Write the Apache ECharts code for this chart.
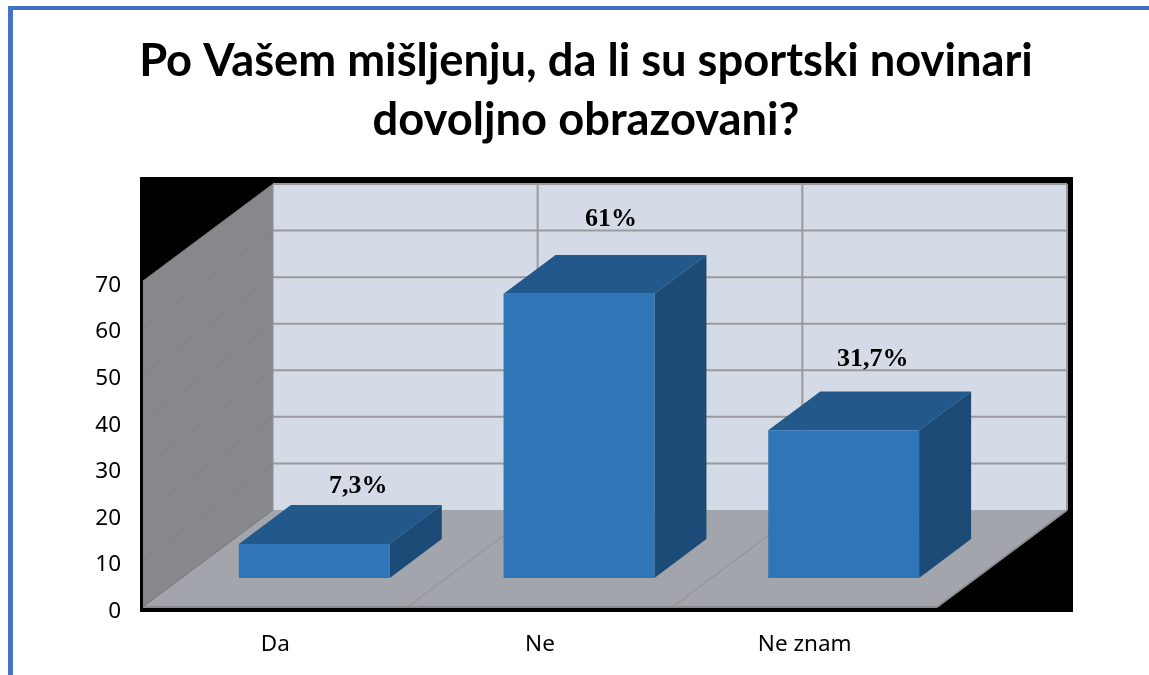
<!DOCTYPE html>
<html>
<head>
<meta charset="utf-8">
<style>
  html, body { margin: 0; padding: 0; background: #fff; }
  #chart { width: 1149px; height: 675px; }
</style>
<script src="https://cdn.jsdelivr.net/npm/echarts@6/dist/echarts.min.js"></script>
</head>
<body>
<div id="chart"></div>
<script>
const categories = [ 'Da', 'Ne', 'Ne znam' ];
const values = [ 7.3, 61, 31.7 ];
const yTicks = [ 0, 10, 20, 30, 40, 50, 60, 70 ];
const titleText = 'Po Vašem mišljenju, da li su sportski novinari\ndovoljno obrazovani?';

// Décalage de la perspective (fond du graphique par rapport au plan avant)
const DEPTH_X = 130;
const DEPTH_Y = -97;
// Les barres occupent de 30% à 70% de la profondeur
const BAR_START = 0.3;
const BAR_END = 0.7;
const BAR_WIDTH = 0.57;
// Les étiquettes sont placées à la main dans l'original
const labelNudge = [ [ -8, -19 ], [ -20, -36 ], [ -23, -32 ] ];

const chart = echarts.init( document.getElementById( 'chart' ) );

function poly ( points, fill ) {
  return { type: 'polygon', shape: { points }, style: { fill } };
}

function seg ( a, b, stroke, lineWidth ) {
  return { type: 'line', shape: { x1: a[ 0 ], y1: a[ 1 ], x2: b[ 0 ], y2: b[ 1 ] }, style: { stroke, lineWidth } };
}

// Murs, sol et grille
function renderScene ( params, api ) {
  const box = params.coordSys;
  const left = box.x;
  const right = box.x + box.width;
  const cell = box.width / categories.length;
  const y0 = api.coord( [ 0, 0 ] )[ 1 ];
  const yTop = api.coord( [ 0, yTicks[ yTicks.length - 1 ] ] )[ 1 ];
  const back = ( x, y ) => [ x + DEPTH_X, y + DEPTH_Y ];
  const children = [
    poly( [ [ left, yTop ], back( left, yTop ), back( left, y0 ), [ left, y0 ] ], '#87888c' ),
    poly( [ back( left, yTop ), back( right, yTop ), back( right, y0 ), back( left, y0 ) ], '#d4dae6' ),
    poly( [ [ left, y0 ], back( left, y0 ), back( right, y0 ), [ right, y0 ] ], '#a2a6ac' )
  ];
  yTicks.forEach( ( tick ) => {
    const y = api.coord( [ 0, tick ] )[ 1 ];
    if ( tick > 0 ) {
      children.push( seg( [ left, y ], back( left, y ), '#808185', 1 ) );
      children.push( seg( back( left, y ), back( right, y ), '#9a9a9c', 2 ) );
    }
  } );
  categories.forEach( ( name, i ) => {
    const x = left + cell * ( i + 1 );
    if ( i < categories.length - 1 ) {
      children.push( seg( [ x, y0 ], back( x, y0 ), '#8c8d8f', 1 ) );
    }
    children.push( seg( back( x, y0 ), back( x, yTop ), '#9a9a9c', 2 ) );
  } );
  children.push( seg( back( left, y0 ), back( left, yTop ), '#8f9094', 1 ) );
  children.push( seg( [ left, y0 ], [ right, y0 ], '#8a8b8e', 2 ) );
  children.push( seg( [ right, y0 ], back( right, y0 ), '#8f9094', 2 ) );
  return { type: 'group', children };
}

// Barres 3D avec leur étiquette
function renderBar ( params, api ) {
  const i = api.value( 0 );
  const v = api.value( 1 );
  const base = api.coord( [ i, 0 ] );
  const top = api.coord( [ i, v ] );
  const w = api.size( [ 1, 0 ] )[ 0 ] * BAR_WIDTH;
  const x1 = base[ 0 ] + DEPTH_X * BAR_START - w / 2;
  const x2 = x1 + w;
  const yb = base[ 1 ] + DEPTH_Y * BAR_START;
  const yt = top[ 1 ] + DEPTH_Y * BAR_START;
  const dx = DEPTH_X * ( BAR_END - BAR_START );
  const dy = DEPTH_Y * ( BAR_END - BAR_START );
  return {
    type: 'group',
    children: [
      poly( [ [ x1, yt ], [ x1 + dx, yt + dy ], [ x2 + dx, yt + dy ], [ x2, yt ] ], '#22588a' ),
      poly( [ [ x2, yt ], [ x2 + dx, yt + dy ], [ x2 + dx, yb + dy ], [ x2, yb ] ], '#1c4b77' ),
      poly( [ [ x1, yt ], [ x2, yt ], [ x2, yb ], [ x1, yb ] ], '#2f75b8' ),
      {
        type: 'text',
        style: {
          text: String( v ).replace( '.', ',' ) + '%',
          x: ( x1 + x2 ) / 2 + dx + labelNudge[ i ][ 0 ],
          y: yt + dy + labelNudge[ i ][ 1 ],
          align: 'center',
          verticalAlign: 'middle',
          font: 'bold 26px "Liberation Serif"',
          fill: '#000'
        }
      }
    ]
  };
}

chart.setOption( {
  animation: false,
  backgroundColor: '#fff',
  title: {
    text: titleText,
    left: 581,
    top: 27,
    textAlign: 'center',
    textStyle: { fontFamily: 'Lato', fontWeight: 'bold', fontSize: 45.3, lineHeight: 59, color: '#000' }
  },
  grid: { left: 143, right: 212, top: 281, bottom: 68 },
  xAxis: {
    type: 'category',
    data: categories,
    axisLine: { show: false },
    axisTick: { show: false },
    splitLine: { show: false },
    axisLabel: { margin: 26, fontFamily: 'Noto Sans', fontSize: 22.5, color: '#000' }
  },
  yAxis: {
    type: 'value',
    min: 0,
    max: 70,
    interval: 10,
    axisLine: { show: false },
    axisTick: { show: false },
    splitLine: { show: false },
    // lineHeight réduit pour descendre les libellés sous le tick, comme l'original
    axisLabel: { margin: 22, fontFamily: 'Noto Sans', fontSize: 22.5, color: '#000', verticalAlign: 'top', lineHeight: 9 }
  },
  graphic: [
    { type: 'rect', z: -1, shape: { x: 140, y: 177, width: 933, height: 435 }, style: { fill: '#000' } },
    { type: 'rect', z: -1, shape: { x: 8, y: 6, width: 1141, height: 4 }, style: { fill: '#4472c4' } },
    { type: 'rect', z: -1, shape: { x: 8, y: 6, width: 5, height: 669 }, style: { fill: '#4472c4' } }
  ],
  series: [
    {
      type: 'custom',
      clip: false,
      silent: true,
      z: 1,
      data: [ [ 0, 0 ] ],
      renderItem: renderScene
    },
    {
      type: 'custom',
      clip: false,
      silent: true,
      z: 2,
      encode: { x: 0, y: 1 },
      data: values.map( ( v, i ) => [ i, v ] ),
      renderItem: renderBar
    }
  ]
} );
</script>
</body>
</html>
